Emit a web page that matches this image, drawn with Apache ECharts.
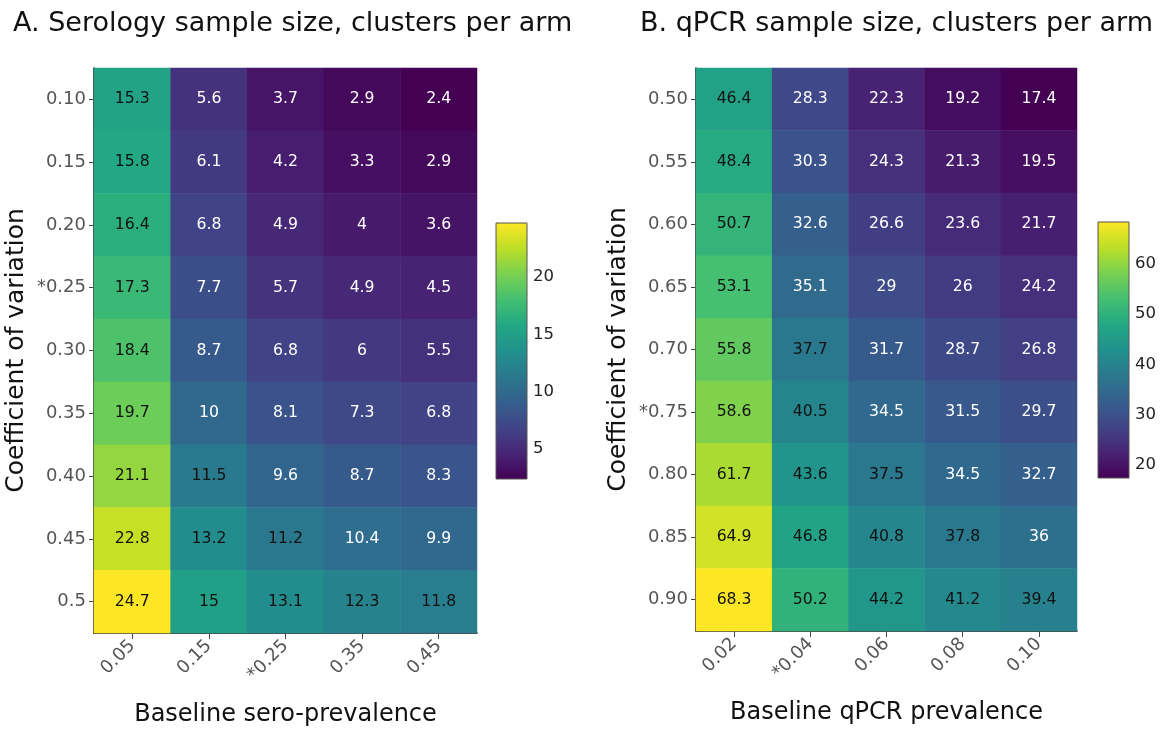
<!DOCTYPE html>
<html><head><meta charset="utf-8">
<script src="https://cdn.jsdelivr.net/npm/echarts@6/dist/echarts.min.js"></script>
<style>html,body{margin:0;padding:0;background:#fff}#c{width:1162px;height:732px}</style>
</head><body><div id="c"></div>
<script>
// ---- data ----
const seroPrev = ['0.05', '0.15', '*0.25', '0.35', '0.45'];
const seroCV = ['0.10', '0.15', '0.20', '*0.25', '0.30', '0.35', '0.40', '0.45', '0.5'];
// rows follow seroCV, columns follow seroPrev
const seroValues = [
  [15.3, 5.6, 3.7, 2.9, 2.4],
  [15.8, 6.1, 4.2, 3.3, 2.9],
  [16.4, 6.8, 4.9, 4, 3.6],
  [17.3, 7.7, 5.7, 4.9, 4.5],
  [18.4, 8.7, 6.8, 6, 5.5],
  [19.7, 10, 8.1, 7.3, 6.8],
  [21.1, 11.5, 9.6, 8.7, 8.3],
  [22.8, 13.2, 11.2, 10.4, 9.9],
  [24.7, 15, 13.1, 12.3, 11.8]
];
const qpcrPrev = ['0.02', '*0.04', '0.06', '0.08', '0.10'];
const qpcrCV = ['0.50', '0.55', '0.60', '0.65', '0.70', '*0.75', '0.80', '0.85', '0.90'];
const qpcrValues = [
  [46.4, 28.3, 22.3, 19.2, 17.4],
  [48.4, 30.3, 24.3, 21.3, 19.5],
  [50.7, 32.6, 26.6, 23.6, 21.7],
  [53.1, 35.1, 29, 26, 24.2],
  [55.8, 37.7, 31.7, 28.7, 26.8],
  [58.6, 40.5, 34.5, 31.5, 29.7],
  [61.7, 43.6, 37.5, 34.5, 32.7],
  [64.9, 46.8, 40.8, 37.8, 36],
  [68.3, 50.2, 44.2, 41.2, 39.4]
];
const seroTicks = [5, 10, 15, 20];
const qpcrTicks = [20, 30, 40, 50, 60];

// ---- styling helpers ----
const viridis = ['#440154','#482475','#414487','#355f8d','#2a788e','#21918c','#22a884','#44bf70','#7ad151','#bddf26','#fde725'];
const FONT = 'DejaVu Sans';

function cells(values) {
  const flat = values.flat();
  const mn = Math.min(...flat), mx = Math.max(...flat);
  const out = [];
  values.forEach((row, r) => row.forEach((v, c) => {
    const t = (v - mn) / (mx - mn);
    out.push({ value: [c, r, v], label: { color: t > 0.38 ? '#111' : '#fff' } });
  }));
  return { data: out, min: mn, max: mx };
}
const A = cells(seroValues), B = cells(qpcrValues);

function catX(gi, labels, name) {
  return {
    type: 'category', gridIndex: gi, data: labels, name: name,
    nameLocation: 'middle', nameGap: 70,
    nameTextStyle: { fontFamily: FONT, fontSize: 24, color: '#111' },
    axisLine: { show: true, lineStyle: { color: '#111', width: 1.5 } },
    axisTick: { show: true, alignWithLabel: true, length: 6, lineStyle: { color: '#444' } },
    axisLabel: { rotate: 45, fontFamily: FONT, fontSize: 18, color: '#555', margin: 10 },
    splitLine: { show: false }
  };
}
function catY(gi, labels) {
  return {
    type: 'category', gridIndex: gi, data: labels, inverse: true,
    name: 'Coefficient of variation', nameLocation: 'middle', nameGap: 65, nameRotate: 90,
    nameTextStyle: { fontFamily: FONT, fontSize: 25, color: '#111' },
    axisLine: { show: true, lineStyle: { color: '#111', width: 1.5 } },
    axisTick: { show: true, alignWithLabel: true, length: 5, lineStyle: { color: '#444' } },
    axisLabel: { fontFamily: FONT, fontSize: 18, color: '#555', margin: 8 },
    splitLine: { show: false }
  };
}
function cbY(gi, mn, mx, ticks) {
  return {
    type: 'value', gridIndex: gi, min: mn, max: mx, position: 'right',
    axisLine: { show: false },
    axisTick: { show: true, length: 4, lineStyle: { color: '#333' },
      customValues: ticks },
    axisLabel: { fontFamily: FONT, fontSize: 16.5, color: '#222', margin: 6,
      customValues: ticks },
    splitLine: { show: false }
  };
}
function cbSeries(gi) {
  return {
    type: 'custom', xAxisIndex: gi, yAxisIndex: gi, silent: true,
    data: [[0]],
    renderItem: function (params, api) {
      const ax = params.coordSys;
      return {
        type: 'rect',
        shape: { x: ax.x, y: ax.y, width: ax.width, height: ax.height },
        style: {
          fill: new echarts.graphic.LinearGradient(0, 1, 0, 0,
            viridis.map((c, i) => ({ offset: i / (viridis.length - 1), color: c }))),
          stroke: '#555', lineWidth: 1
        }
      };
    }
  };
}

const chart = echarts.init(document.getElementById('c'));
chart.setOption({
  backgroundColor: '#fff',
  animation: false,
  title: [
    { text: 'A. Serology sample size, clusters per arm', left: 8, top: 5,
      textStyle: { fontFamily: FONT, fontSize: 27, fontWeight: 'normal', color: '#111' } },
    { text: 'B. qPCR sample size, clusters per arm', left: 635, top: 5,
      textStyle: { fontFamily: FONT, fontSize: 27, fontWeight: 'normal', color: '#111' } }
  ],
  grid: [
    { left: 94, top: 68, width: 383, height: 565 },
    { left: 696, top: 68, width: 381, height: 563 },
    { left: 496, top: 223, width: 31, height: 256 },
    { left: 1098, top: 222, width: 31, height: 256 }
  ],
  xAxis: [
    catX(0, seroPrev, 'Baseline sero-prevalence'),
    catX(1, qpcrPrev, 'Baseline qPCR prevalence'),
    { type: 'value', gridIndex: 2, min: 0, max: 1, show: false },
    { type: 'value', gridIndex: 3, min: 0, max: 1, show: false }
  ],
  yAxis: [
    catY(0, seroCV),
    catY(1, qpcrCV),
    cbY(2, A.min, A.max, seroTicks),
    cbY(3, B.min, B.max, qpcrTicks)
  ],
  visualMap: [
    { show: false, seriesIndex: 0, dimension: 2, min: A.min, max: A.max, inRange: { color: viridis } },
    { show: false, seriesIndex: 1, dimension: 2, min: B.min, max: B.max, inRange: { color: viridis } }
  ],
  series: [
    { type: 'heatmap', xAxisIndex: 0, yAxisIndex: 0, data: A.data,
      label: { show: true, fontFamily: FONT, fontSize: 15.7, formatter: p => String(p.value[2]) } },
    { type: 'heatmap', xAxisIndex: 1, yAxisIndex: 1, data: B.data,
      label: { show: true, fontFamily: FONT, fontSize: 15.7, formatter: p => String(p.value[2]) } },
    cbSeries(2),
    cbSeries(3)
  ]
});
</script></body></html>
